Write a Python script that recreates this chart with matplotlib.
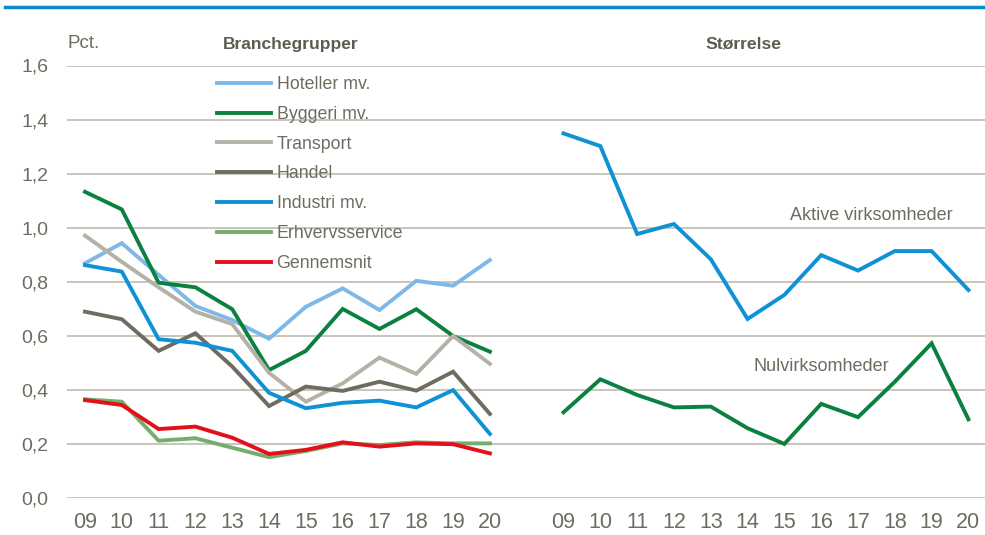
import matplotlib
matplotlib.use('Agg')
import matplotlib.pyplot as plt
from matplotlib import font_manager
import numpy as np

# Fonte estreita se existir
names = {f.name for f in font_manager.fontManager.ttflist}
fam = 'Liberation Sans Narrow' if 'Liberation Sans Narrow' in names else 'Liberation Sans'
plt.rcParams['font.family'] = [fam, 'DejaVu Sans']

years = ['09', '10', '11', '12', '13', '14', '15', '16', '17', '18', '19', '20']

# Branchegrupper
hoteller = [0.869, 0.943, 0.826, 0.711, 0.659, 0.590, 0.708, 0.776, 0.696, 0.804, 0.786, 0.881]
byggeri = [1.133, 1.068, 0.797, 0.780, 0.699, 0.474, 0.545, 0.700, 0.626, 0.699, 0.600, 0.542]
transport = [0.971, 0.874, 0.780, 0.690, 0.644, 0.464, 0.357, 0.425, 0.520, 0.460, 0.600, 0.497]
handel = [0.690, 0.662, 0.545, 0.610, 0.487, 0.341, 0.413, 0.397, 0.431, 0.398, 0.468, 0.312]
industri = [0.862, 0.838, 0.588, 0.575, 0.545, 0.390, 0.333, 0.353, 0.361, 0.336, 0.400, 0.238]
erhverv = [0.366, 0.357, 0.213, 0.222, 0.187, 0.152, 0.175, 0.203, 0.197, 0.207, 0.203, 0.203]
gennemsnit = [0.363, 0.345, 0.256, 0.265, 0.224, 0.164, 0.179, 0.207, 0.191, 0.203, 0.200, 0.166]

# Størrelse
aktive = [1.349, 1.302, 0.977, 1.014, 0.884, 0.663, 0.752, 0.899, 0.842, 0.914, 0.914, 0.770]
nul = [0.318, 0.440, 0.382, 0.336, 0.339, 0.259, 0.201, 0.349, 0.300, 0.431, 0.573, 0.292]

txt = '#6e6c60'
lw = 2.8

fig = plt.figure(figsize=(9.85, 5.35), dpi=100)
ax = fig.add_axes([66.6 / 985, (535 - 498.3) / 535, 918.4 / 985, (498.3 - 65.5) / 535])

xl = np.arange(len(years))
xr = xl + len(years) + 1

series = [
    ('Hoteller mv.', hoteller, '#7db8e8'),
    ('Byggeri mv.', byggeri, '#0b8040'),
    ('Transport', transport, '#b4b2a6'),
    ('Handel', handel, '#6f6c5f'),
    ('Industri mv.', industri, '#0f91d5'),
    ('Erhvervsservice', erhverv, '#74ad6c'),
    ('Gennemsnit', gennemsnit, '#e3101c'),
]
for label, vals, c in series:
    ax.plot(xl, vals, color=c, lw=lw, label=label, solid_joinstyle='miter')

ax.plot(xr, aktive, color='#0f91d5', lw=lw, solid_joinstyle='miter')
ax.plot(xr, nul, color='#0b8040', lw=lw, solid_joinstyle='miter')

ax.set_xlim(-0.5, 24.45)
ax.set_ylim(0, 1.6)
ax.set_yticks(np.arange(0, 1.61, 0.2))
ax.set_yticklabels([f'{v:.1f}'.replace('.', ',') for v in np.arange(0, 1.61, 0.2)])
ax.set_xticks(list(xl) + list(xr))
ax.set_xticklabels(years + years)
ax.tick_params(axis='y', length=0, pad=13, labelsize=14, labelcolor=txt)
ax.tick_params(axis='x', length=0, pad=10, labelsize=15.5, labelcolor=txt)
ax.grid(axis='y', color='#c4c2b6', lw=1.3)
ax.set_axisbelow(True)
for s in ax.spines.values():
    s.set_visible(False)

leg = ax.legend(loc='upper left', bbox_to_anchor=(217 / 985, 1 - 76 / 535),
                bbox_transform=fig.transFigure, frameon=False,
                fontsize=12.8, handlelength=3.05, handletextpad=0.3,
                labelspacing=0.72, borderpad=0, borderaxespad=0)
for t in leg.get_texts():
    t.set_color(txt)

fig.text(84 / 985, 1 - 44 / 535, 'Pct.', ha='center', va='center', fontsize=13.5, color=txt)
fig.text(291 / 985, 1 - 44 / 535, 'Branchegrupper', ha='center', va='center',
         fontsize=12.5, color='#5e5c52', fontweight='bold')
fig.text(743 / 985, 1 - 44 / 535, 'Størrelse', ha='center', va='center',
         fontsize=12.6, color='#5e5c52', fontweight='bold')

ax.text(21.36, 1.045, 'Aktive virksomheder', ha='center', va='center', fontsize=13, color=txt)
ax.text(20.0, 0.489, 'Nulvirksomheder', ha='center', va='center', fontsize=13, color=txt)

# linha azul no topo
fig.add_artist(plt.Line2D([5 / 985, 1.0], [1 - 7 / 535, 1 - 7 / 535], color='#0b88c9', lw=2.5))

fig.savefig('out.png', dpi=100)
